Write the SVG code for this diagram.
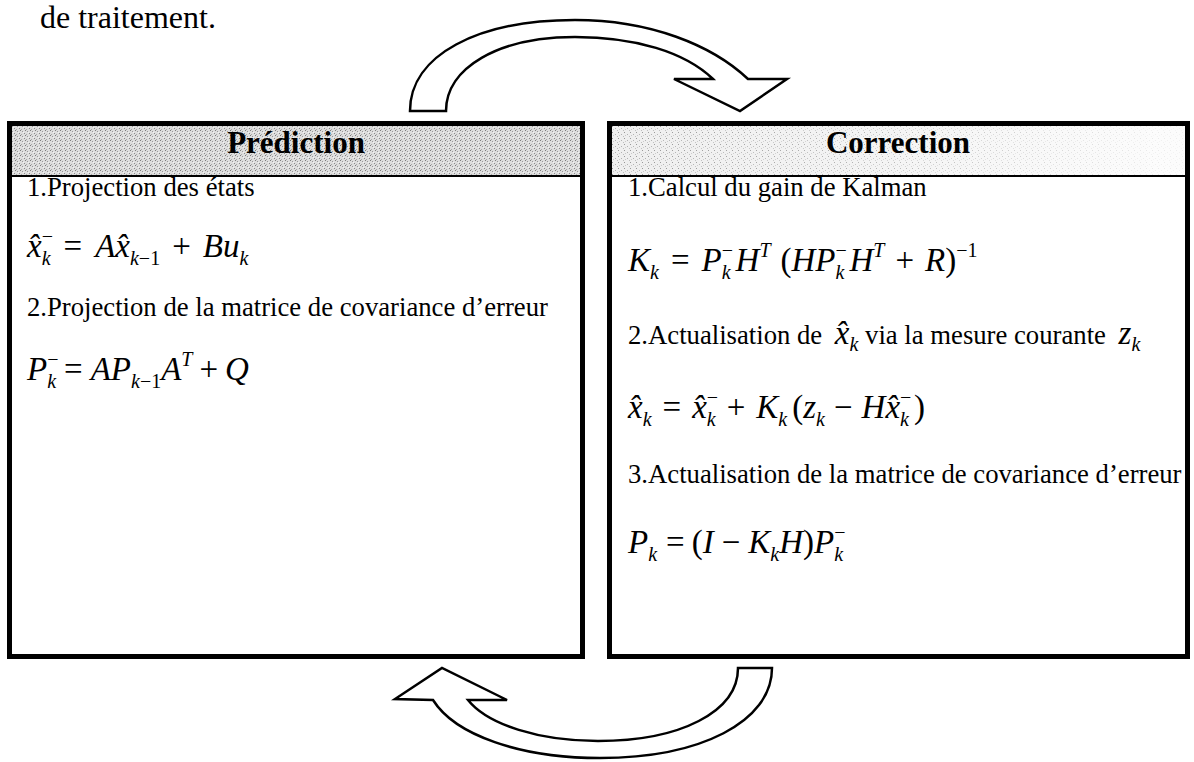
<svg xmlns="http://www.w3.org/2000/svg" width="1194" height="762" viewBox="0 0 1194 762">
<style>
.t{font-family:"Liberation Serif","Times New Roman",serif;font-size:26.7px;fill:#000}
.top{font-size:32px}
.h{font-family:"Liberation Serif","Times New Roman",serif;font-size:31px;font-weight:bold;fill:#000}
.m{font-family:"Liberation Serif","Times New Roman",serif;font-size:33px;font-style:italic;fill:#000}
.s{font-size:20px}
.n{font-style:normal}
.i{font-style:italic}
.box{fill:#fff;stroke:#000;stroke-width:5}
.arrow{fill:#fff;stroke:#000;stroke-width:2.5;stroke-linejoin:miter}
.sep{stroke:#000;stroke-width:2}
</style>
<defs>
<pattern id="stipL" width="5" height="5" patternUnits="userSpaceOnUse">
<rect width="5" height="5" fill="#dedede"/>
<rect x="0" y="0" width="1" height="1" fill="#7c7c7c"/>
<rect x="2" y="1" width="1" height="1" fill="#9a9a9a"/>
<rect x="4" y="3" width="1" height="1" fill="#8a8a8a"/>
<rect x="1" y="4" width="1" height="1" fill="#a8a8a8"/>
<rect x="3" y="2" width="1" height="1" fill="#f4f4f4"/>
</pattern>
<pattern id="stipR" width="6" height="6" patternUnits="userSpaceOnUse">
<rect width="6" height="6" fill="#efefef"/>
<rect x="0" y="0" width="1" height="1" fill="#969696"/>
<rect x="3" y="2" width="1" height="1" fill="#b0b0b0"/>
<rect x="5" y="4" width="1" height="1" fill="#bcbcbc"/>
<rect x="1" y="3" width="1" height="1" fill="#c8c8c8"/>
</pattern>
<linearGradient id="fadeR" x1="0" y1="0" x2="1" y2="0">
<stop offset="0" stop-color="#fff" stop-opacity="0"/>
<stop offset="0.45" stop-color="#fff" stop-opacity="0.3"/>
<stop offset="1" stop-color="#fff" stop-opacity="0.85"/>
</linearGradient>
</defs>
<rect width="1194" height="762" fill="#fff"/>
<text class="t top" x="40" y="28">de traitement.</text>

<g id="prediction">
<rect class="box" x="9.5" y="123.5" width="573" height="533"/>
<rect x="12" y="126" width="568" height="50" fill="url(#stipL)"/>
<line class="sep" x1="12" y1="176" x2="580" y2="176"/>
<text class="h" x="296" y="153" text-anchor="middle">Prédiction</text>
<text class="t" x="27" y="196">1.Projection des états</text>
<text class="m" x="27" y="257">x̂<tspan class="s n" dy="-14">−</tspan><tspan class="s" dx="-11.3" dy="22">k</tspan><tspan class="n" dx="13" dy="-8">=</tspan><tspan dx="13">A</tspan><tspan>x̂</tspan><tspan class="s" dy="8">k</tspan><tspan class="s n">−1</tspan><tspan class="n" dx="12" dy="-8">+</tspan><tspan dx="12">Bu</tspan><tspan class="s" dy="8">k</tspan></text>
<text class="t" x="27" y="316">2.Projection de la matrice de covariance d’erreur</text>
<text class="m" x="27" y="380">P<tspan class="s n" dy="-14">−</tspan><tspan class="s" dx="-11.3" dy="22">k</tspan><tspan class="n" dx="8" dy="-8">=</tspan><tspan dx="8">AP</tspan><tspan class="s" dy="8">k</tspan><tspan class="s n">−1</tspan><tspan dy="-8">A</tspan><tspan class="s" dy="-14">T</tspan><tspan class="n" dx="7" dy="14">+</tspan><tspan dx="7">Q</tspan></text>
</g>

<g id="correction">
<rect class="box" x="609.5" y="123.5" width="578" height="533"/>
<rect x="612" y="126" width="573" height="50" fill="url(#stipR)"/>
<rect x="612" y="126" width="573" height="50" fill="url(#fadeR)"/>
<line class="sep" x1="612" y1="176" x2="1185" y2="176"/>
<text class="h" x="898" y="153" text-anchor="middle">Correction</text>
<text class="t" x="628" y="196">1.Calcul du gain de Kalman</text>
<text class="m" x="628" y="271">K<tspan class="s" dy="8">k</tspan><tspan class="n" dx="12" dy="-8">=</tspan><tspan dx="12">P</tspan><tspan class="s n" dy="-14">−</tspan><tspan class="s" dx="-11.3" dy="22">k</tspan><tspan dx="5" dy="-8">H</tspan><tspan class="s" dy="-14">T</tspan><tspan class="n" dx="10" dy="14">(</tspan><tspan>HP</tspan><tspan class="s n" dy="-14">−</tspan><tspan class="s" dx="-11.3" dy="22">k</tspan><tspan dx="5" dy="-8">H</tspan><tspan class="s" dy="-14">T</tspan><tspan class="n" dx="11" dy="14">+</tspan><tspan dx="11">R</tspan><tspan class="n">)</tspan><tspan class="s n" dy="-14">−1</tspan></text>
<text class="t" x="628" y="344">2.Actualisation de <tspan class="m" dx="6">x̂</tspan><tspan class="s i" dy="7">k</tspan><tspan dy="-7"> via la mesure courante </tspan><tspan class="m" dx="6">z</tspan><tspan class="s i" dy="7">k</tspan></text>
<text class="m" x="628" y="418">x̂<tspan class="s" dy="8">k</tspan><tspan class="n" dx="11" dy="-8">=</tspan><tspan dx="11">x̂</tspan><tspan class="s n" dy="-14">−</tspan><tspan class="s" dx="-11.3" dy="22">k</tspan><tspan class="n" dx="11" dy="-8">+</tspan><tspan dx="11">K</tspan><tspan class="s" dy="8">k</tspan><tspan class="n" dx="5" dy="-8">(</tspan><tspan>z</tspan><tspan class="s" dy="8">k</tspan><tspan class="n" dx="9" dy="-8">−</tspan><tspan dx="9">Hx̂</tspan><tspan class="s n" dy="-14">−</tspan><tspan class="s" dx="-11.3" dy="22">k</tspan><tspan class="n" dx="5" dy="-8">)</tspan></text>
<text class="t" x="628" y="483">3.Actualisation de la matrice de covariance d’erreur</text>
<text class="m" x="628" y="553">P<tspan class="s" dy="8">k</tspan><tspan class="n" dx="9" dy="-8">=</tspan><tspan class="n" dx="7">(</tspan><tspan>I</tspan><tspan class="n" dx="8">−</tspan><tspan dx="8">K</tspan><tspan class="s" dy="8">k</tspan><tspan dy="-8">H</tspan><tspan class="n">)</tspan><tspan>P</tspan><tspan class="s n" dy="-14">−</tspan><tspan class="s" dx="-11.3" dy="22">k</tspan></text>
</g>

<g id="connectors">
<path class="arrow" d="M410,111 C410,55 478,20 575,20 C650,20 712,45 748,79 L787,79 L740,111 L674,79 L713,79 C685,52 635,37 575,37 C498,37 446,68 446,111 Z"/>
<path class="arrow" d="M738,668 L772,668 C772,722 700,758 600,758 C520,758 455,735 433,700 L395,699 L442,668 L507,700 L468,700 C488,725 540,741 598,741 C680,741 738,712 738,668 Z"/>
</g>
</svg>
